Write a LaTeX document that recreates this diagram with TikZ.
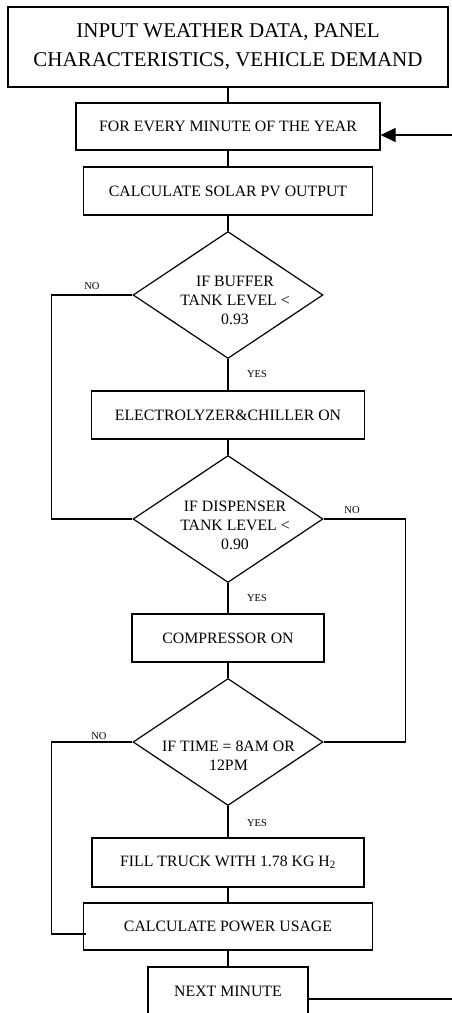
\documentclass[tikz,border=0pt]{standalone}
\usepackage{fontspec}
\setmainfont{Liberation Serif}
\usetikzlibrary{shapes.geometric,arrows.meta}
\begin{document}
\begin{tikzpicture}[x=1pt,y=-1pt,
  every path/.style={line width=1.2pt,line join=miter},
  procbox/.style={draw,rectangle,inner sep=0pt,minimum height=48pt,font=\fontsize{15.8}{19}\selectfont,align=center},
  decision/.style={draw,diamond,inner sep=0pt,minimum width=190pt,minimum height=127pt},
  dtext/.style={font=\fontsize{15.8}{19}\selectfont,align=center,inner sep=0pt},
  branch/.style={font=\fontsize{10.5}{12}\selectfont,inner sep=0pt},
  link/.style={draw}]
\useasboundingbox (0,0) rectangle (452,1013);

% process boxes
\node[procbox,minimum width=440pt,minimum height=80pt,font=\fontsize{21}{29}\selectfont] (input) at (228,47)
  {INPUT WEATHER DATA, PANEL\\CHARACTERISTICS, VEHICLE DEMAND};
\node[procbox,minimum width=304pt,minimum height=47pt] (every) at (228,126.5) {FOR EVERY MINUTE OF THE YEAR};
\node[procbox,minimum width=289pt] (solar) at (228,191) {CALCULATE SOLAR PV OUTPUT};
\node[decision] (buffer) at (228,295) {};
\node[dtext] (buffertxt) at (235,300) {IF BUFFER\\TANK LEVEL <\\0.93};
\node[procbox,minimum width=273pt] (elec) at (228,415) {ELECTROLYZER\&CHILLER ON};
\node[decision] (disp) at (228,519) {};
\node[dtext] (disptxt) at (235,525) {IF DISPENSER\\TANK LEVEL <\\0.90};
\node[procbox,minimum width=192pt] (comp) at (228,638) {COMPRESSOR ON};
\node[decision] (time) at (228,742) {};
\node[dtext] (timetxt) at (228.5,755.5) {IF TIME = 8AM OR\\12PM};
\node[procbox,minimum width=272pt,minimum height=49pt] (fill) at (228,862.5) {FILL TRUCK WITH 1.78 KG H\textsubscript{2}};
\node[procbox,minimum width=289pt,minimum height=47pt] (power) at (228,926.5) {CALCULATE POWER USAGE};
\node[procbox,minimum width=160pt] (next) at (228,991) {NEXT MINUTE};

% branch labels
\node[branch] (no1) at (92,286) {NO};
\node[branch] (yes1) at (257,374) {YES};
\node[branch] (no2) at (352,510) {NO};
\node[branch] (yes2) at (257,598) {YES};
\node[branch] (no3) at (99,736) {NO};
\node[branch] (yes3) at (257,823) {YES};

% free ends of the loop and the skip lines
\coordinate (powerin) at (86,934);
\coordinate (nextout) at (308,999);
\coordinate (loopout) at (452,999);
\coordinate (loopin) at (452,135);

% main flow
\draw[link] (input.south) -- (every.north);
\draw[link] (every.south) -- (solar.north);
\draw[link] (solar.south) -- (buffer.north);
\draw[link] (buffer.south) -- (elec.north);
\draw[link] (elec.south) -- (disp.north);
\draw[link] (disp.south) -- (comp.north);
\draw[link] (comp.south) -- (time.north);
\draw[link] (time.south) -- (fill.north);
\draw[link] (fill.south) -- (power.north);
\draw[link] (power.south) -- (next.north);

% NO branches
\draw[link] (buffer.west) -- ++(-81,0) |- (disp.west);
\draw[link] (disp.east) -- ++(82,0) |- (time.east);
\draw[link] (time.west) -- ++(-81,0) |- (powerin);

% loop back to the next minute
\draw[link] (nextout) -- (loopout);
\draw[link,-{Triangle[length=15pt,width=14pt]}] (loopin) -- (loopin -| every.east);
\end{tikzpicture}
\end{document}
